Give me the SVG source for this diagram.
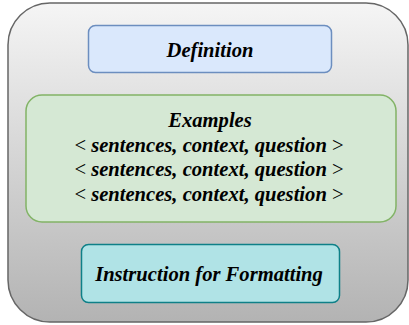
<svg xmlns="http://www.w3.org/2000/svg" width="409" height="325" viewBox="0 0 409 325">
<defs>
<linearGradient id="bg" x1="0" y1="0" x2="0" y2="1">
<stop offset="0" stop-color="#f5f5f5"/>
<stop offset="1" stop-color="#b3b3b3"/>
</linearGradient>
</defs>
<style>
.t{font-family:'Liberation Serif','DejaVu Serif',serif;font-weight:700;font-style:italic;font-size:20.6px;fill:#000;text-anchor:middle}
.r{font-weight:400;font-style:normal}
</style>
<g id="container">
<rect x="8" y="3" width="400" height="319" rx="42" ry="42" fill="url(#bg)" stroke="#666666" stroke-width="1.5"/>
</g>
<g id="definition">
<rect x="88.5" y="25.5" width="243" height="47" rx="7" fill="#dae8fc" stroke="#6c8ebf" stroke-width="1.5"/>
<text class="t" x="210" y="57">Definition</text>
</g>
<g id="examples">
<rect x="26" y="95" width="370" height="127" rx="16" fill="#d5e8d4" stroke="#82b366" stroke-width="1.5"/>
<text class="t" x="210" y="126.5">Examples</text>
<text class="t" x="209" y="151.5"><tspan class="r">&lt;</tspan> sentences, context, question <tspan class="r">&gt;</tspan></text>
<text class="t" x="209" y="176">
<tspan class="r">&lt;</tspan> sentences, context, question <tspan class="r">&gt;</tspan></text>
<text class="t" x="209" y="200.5"><tspan class="r">&lt;</tspan> sentences, context, question <tspan class="r">&gt;</tspan></text>
</g>
<g id="instruction">
<rect x="81.5" y="244.5" width="258" height="58" rx="7" fill="#b0e3e6" stroke="#0e8088" stroke-width="1.5"/>
<text class="t" x="209" y="280.5">Instruction for Formatting</text>
</g>
<g id="connectors"/>
</svg>
